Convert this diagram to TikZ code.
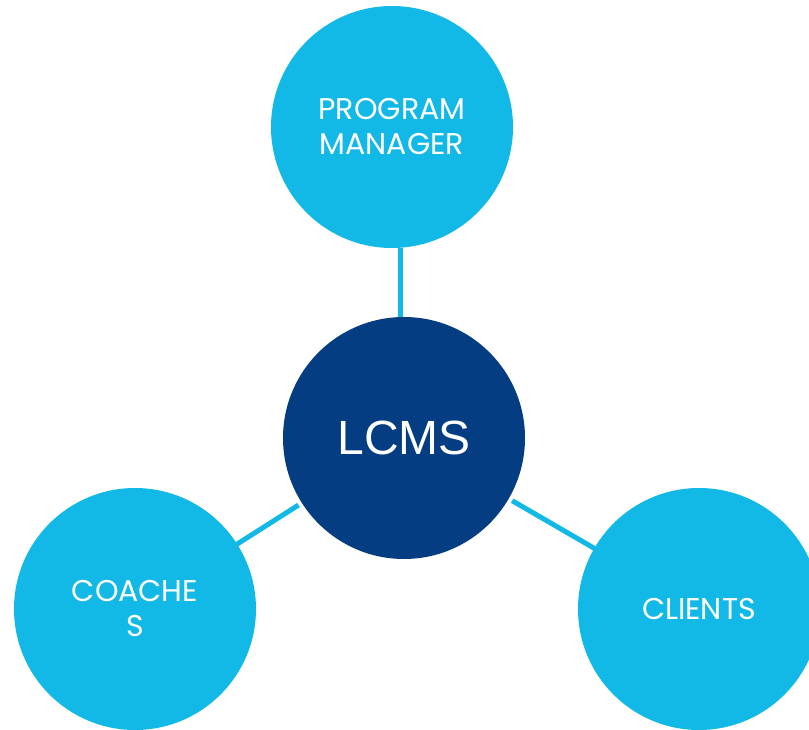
\documentclass[tikz,border=0pt]{standalone}
\usepackage{fontspec}
\setmainfont{Poppins}
\newfontfamily\lcmsfont{Liberation Sans}
\definecolor{lightblue}{RGB}{19,185,230}
\definecolor{darkblue}{RGB}{5,61,130}
\begin{document}
\begin{tikzpicture}[x=1pt,y=-1pt,
  bubble/.style={circle,fill=lightblue,minimum size=242pt,inner sep=0pt,outer sep=0pt,
    text=white,align=center,font=\fontsize{30}{35}\selectfont},
  hub/.style={circle,fill=darkblue,minimum size=242pt,inner sep=0pt,outer sep=0pt,
    text=white,font=\lcmsfont\fontsize{48}{56}\selectfont},
  link/.style={draw=lightblue,line width=5pt}]
\useasboundingbox (0,0) rectangle (809,730);
\node[bubble] (pm) at (392,127) {PROGRAM\\MANAGER};
\node[bubble] (co) at (135,609) {COACHE\\S};
\node[bubble] (cl) at (699,609) {CLIENTS};
\node[hub] (lcms) at (404,438) {LCMS};
\draw[link] ([xshift=8pt]pm.south) -- ([xshift=-4pt]lcms.north);
\draw[link,shorten <=4pt,shorten >=-3pt] (lcms) -- (co);
\draw[link,shorten <=4pt,shorten >=-3pt] (lcms) -- (cl);
\end{tikzpicture}
\end{document}
